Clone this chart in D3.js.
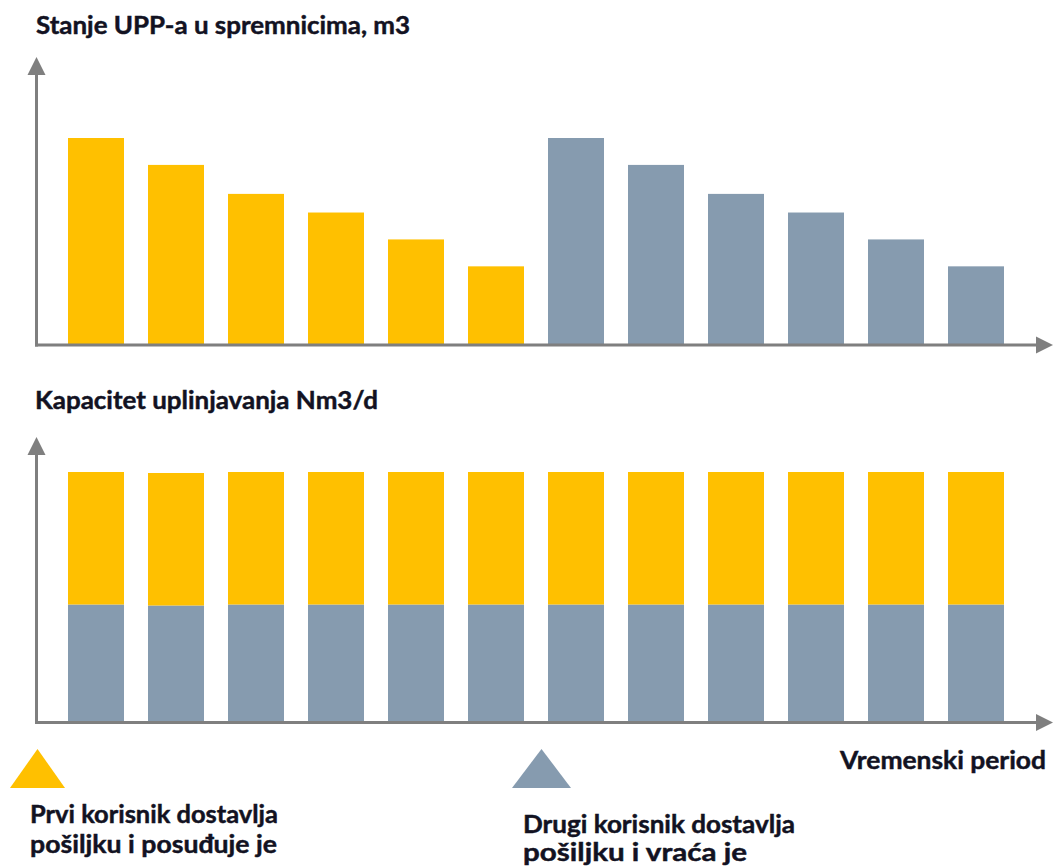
<!DOCTYPE html>
<html>
<head>
<meta charset="utf-8">
<script src="https://cdn.jsdelivr.net/npm/d3@7"></script>
<style>
  html, body { margin: 0; padding: 0; background: #fff; }
  svg { display: block; }
  .label { font-family: Lato, "Open Sans", sans-serif; font-weight: 700; fill: #121222; stroke: #121222; stroke-width: 0.45; }
  .axis-line { stroke: #7f7f7f; stroke-width: 3; fill: none; }
  .axis-head { fill: #7f7f7f; }
</style>
</head>
<body>
<svg id="chart" width="1054" height="867"></svg>
<script>
(function () {
  "use strict";

  // vremenski periodi
  var periods = [1, 2, 3, 4, 5, 6, 7, 8, 9, 10, 11, 12];

  // stanje UPP-a u spremnicima (relativno, prvi korisnik pa drugi korisnik)
  var stockFirst = [100, 87, 73, 64, 51, 38];
  var stockSecond = [100, 87, 73, 64, 51, 38];

  // kapacitet uplinjavanja po periodu: dio drugog (sivo) i prvog (narančasto) korisnika
  var capSecond = [47, 46.6, 47, 47, 47, 47, 47, 47, 47, 47, 47, 47];
  var capFirst = [53, 53, 53, 53, 53, 53, 53, 53, 53, 53, 53, 53];

  var titles = ["Stanje UPP-a u spremnicima, m3", "Kapacitet uplinjavanja Nm3/d"];
  var xLabel = "Vremenski period";
  var legendFirst = ["Prvi korisnik dostavlja", "pošiljku i posuđuje je"];
  var legendSecond = ["Drugi korisnik dostavlja", "pošiljku i vraća je"];

  var ORANGE = "#ffc000";
  var GREY = "#869baf";

  var svg = d3.select("#chart");
  var axisX = 36.5;
  var axisEnd = 1053;

  var x = d3.scaleBand()
    .domain(periods)
    .range([56, 1016])
    .paddingInner(0.3)
    .paddingOuter(0.15);

  var yTop = d3.scaleLinear().domain([0, 100]).range([345, 138]);
  var yBottom = d3.scaleLinear().domain([0, 100]).range([722, 472]);

  function text(str, px, py, width) {
    svg.append("text")
      .attr("class", "label")
      .attr("x", px)
      .attr("y", py)
      .attr("font-size", 24)
      .attr("textLength", width)
      .attr("lengthAdjust", "spacingAndGlyphs")
      .text(str);
  }

  function axes(baseY, topY) {
    var g = svg.append("g");
    g.append("line").attr("class", "axis-line")
      .attr("x1", axisX).attr("x2", axisX)
      .attr("y1", baseY + 1.5).attr("y2", topY + 16);
    g.append("path").attr("class", "axis-head")
      .attr("d", "M" + axisX + "," + topY + "L" + (axisX + 9) + "," + (topY + 18) +
        "L" + (axisX - 9) + "," + (topY + 18) + "Z");
    g.append("line").attr("class", "axis-line")
      .attr("x1", axisX - 1.5).attr("x2", axisEnd - 15)
      .attr("y1", baseY).attr("y2", baseY);
    g.append("path").attr("class", "axis-head")
      .attr("d", "M" + axisEnd + "," + baseY + "L" + (axisEnd - 17) + "," + (baseY - 8.5) +
        "L" + (axisEnd - 17) + "," + (baseY + 8.5) + "Z");
  }

  // gornji graf
  var stock = stockFirst.map(function (v) { return { owner: "first", value: v }; })
    .concat(stockSecond.map(function (v) { return { owner: "second", value: v }; }));
  stock.forEach(function (d, i) { d.period = periods[i]; });

  svg.append("g").selectAll("rect")
    .data(stock)
    .enter()
    .append("rect")
    .attr("x", function (d) { return x(d.period); })
    .attr("width", x.bandwidth())
    .attr("y", function (d) { return yTop(d.value); })
    .attr("height", function (d) { return yTop(0) - yTop(d.value); })
    .attr("fill", function (d) { return d.owner === "first" ? ORANGE : GREY; });

  axes(345, 57);

  // donji graf
  var capRows = periods.map(function (p, i) {
    return { period: p, second: capSecond[i], first: capFirst[i] };
  });
  var stacked = d3.stack().keys(["second", "first"])(capRows);

  svg.append("g").selectAll("g")
    .data(stacked)
    .enter()
    .append("g")
    .attr("fill", function (s) { return s.key === "first" ? ORANGE : GREY; })
    .selectAll("rect")
    .data(function (s) { return s; })
    .enter()
    .append("rect")
    .attr("x", function (d) { return x(d.data.period); })
    .attr("width", x.bandwidth())
    .attr("y", function (d) { return yBottom(d[1]); })
    .attr("height", function (d) { return yBottom(d[0]) - yBottom(d[1]); });

  axes(722.5, 437);

  // naslovi i oznake
  text(titles[0], 36, 34, 374);
  text(titles[1], 35, 409, 343);
  text(xLabel, 840, 769, 206);

  // legenda
  svg.append("path").attr("fill", ORANGE)
    .attr("d", "M37.5,749L65,788L10,788Z");
  svg.append("path").attr("fill", GREY)
    .attr("d", "M541.5,749L571,788L512,788Z");

  text(legendFirst[0], 30, 823, 248);
  text(legendFirst[1], 30, 853, 247);
  text(legendSecond[0], 523, 833, 272);
  text(legendSecond[1], 523, 861, 224);
}());
</script>
</body>
</html>
